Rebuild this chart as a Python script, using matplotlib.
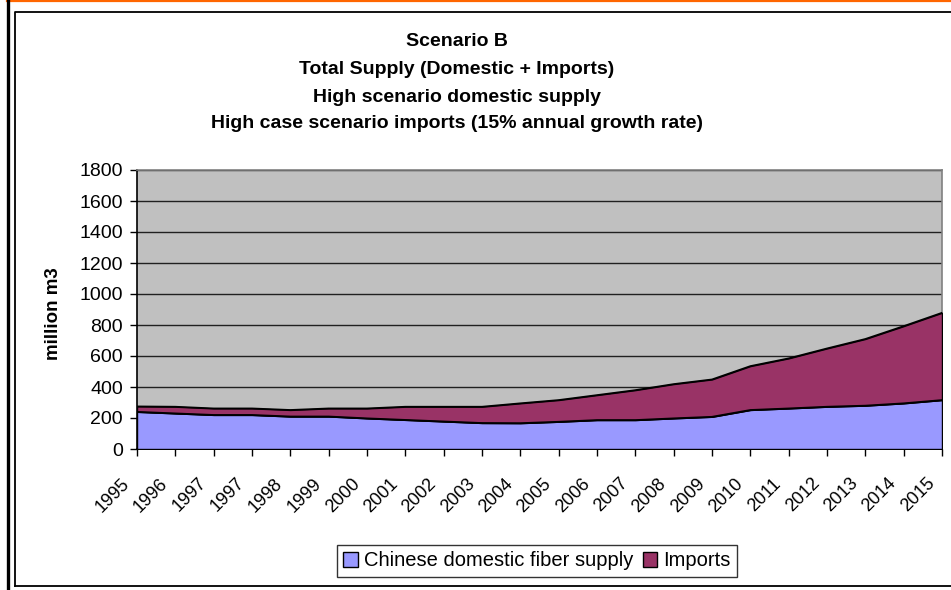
import matplotlib
matplotlib.use("Agg")
import matplotlib.pyplot as plt
from matplotlib.lines import Line2D
from matplotlib.patches import Patch
from matplotlib.transforms import ScaledTranslation
import numpy as np

years = ["1995", "1996", "1997", "1997", "1998", "1999", "2000", "2001", "2002",
         "2003", "2004", "2005", "2006", "2007", "2008", "2009", "2010", "2011",
         "2012", "2013", "2014", "2015"]
domestic = [240, 230, 220, 220, 210, 210, 198, 188, 178, 168, 167, 176, 187, 187,
            198, 208, 252, 262, 273, 280, 295, 316]
imports = [35, 43, 42, 42, 42, 52, 64, 85, 95, 105, 128, 140, 161, 193, 221, 241,
           283, 323, 376, 430, 498, 563]
series_names = ["Chinese domestic fiber supply", "Imports"]
title_lines = ["Scenario B", "Total Supply (Domestic + Imports)",
               "High scenario domestic supply",
               "High case scenario imports (15% annual growth rate)"]
yticks = [0, 200, 400, 600, 800, 1000, 1200, 1400, 1600, 1800]

plt.rcParams['font.family'] = ['Liberation Sans', 'DejaVu Sans']

W, H = 951, 590
fig = plt.figure(figsize=(W / 100, H / 100), dpi=100)
fig.patch.set_facecolor('white')

def fx(px):
    return px / W

def fy(py):
    return 1 - py / H

# frame decorations
fig.add_artist(Line2D([fx(7), 1], [fy(0.8), fy(0.8)], color='#FF6600', lw=1.6,
                      transform=fig.transFigure))
fig.add_artist(Line2D([fx(7.5), fx(7.5)], [0, 1], color='black', lw=2.4,
                      transform=fig.transFigure))
fig.add_artist(Line2D([fx(15), fx(15), 1], [fy(586), fy(12), fy(12)], color='black',
                      lw=1.3, transform=fig.transFigure))
fig.add_artist(Line2D([fx(15), 1], [fy(586), fy(586)], color='black',
                      lw=1.3, transform=fig.transFigure))

ax = fig.add_axes([fx(137), fy(449), fx(942) - fx(137), (449 - 170) / H])
ax.set_facecolor('#C0C0C0')

x = np.arange(len(years))
cols = ['#9999FF', '#993366']
polys = ax.stackplot(x, domestic, imports, colors=cols, edgecolor='black',
                     linewidth=1.0, zorder=3)
tot = np.array(domestic) + np.array(imports)
ax.plot(x, domestic, color='black', lw=1.2, zorder=4)
ax.plot(x, tot, color='black', lw=1.2, zorder=4)

ax.set_xlim(0, len(years) - 1)
ax.set_ylim(0, 1800)
ax.set_yticks(yticks)
ax.set_yticklabels([str(v) for v in yticks], fontsize=14)
ax.set_xticks(x)
ax.set_xticklabels(years, rotation=45, ha='right', va='center',
                   rotation_mode='anchor', fontsize=13)
ax.tick_params(axis='both', direction='out', length=5, width=1, color='black')
ax.tick_params(axis='y', pad=5)
ax.tick_params(axis='x', pad=18)
shift = ScaledTranslation(-10 / 100, 0, fig.dpi_scale_trans)
for lab in ax.get_xticklabels():
    lab.set_transform(lab.get_transform() + shift)
ax.yaxis.grid(True, color='#202020', lw=1.0, zorder=1)
ax.set_axisbelow(True)
for s in ['left', 'bottom']:
    ax.spines[s].set_color('black')
    ax.spines[s].set_linewidth(1.2)
for s in ['top', 'right']:
    ax.spines[s].set_color('#808080')
    ax.spines[s].set_linewidth(1.2)

fig.text(fx(53), fy(314), "million m3", rotation=90, fontsize=13.5,
         fontweight='bold', ha='center', va='center')

title_y = [41, 70, 97, 124]
for t, yy in zip(title_lines, title_y):
    fig.text(fx(457), fy(yy), t, fontsize=14, fontweight='bold', ha='center',
             va='center')

handles = [Patch(facecolor=c, edgecolor='black', lw=1.0) for c in cols]
leg = fig.legend(handles, series_names, loc='center', bbox_to_anchor=(fx(537), fy(561)),
                 ncol=2, fontsize=14.5, frameon=True, fancybox=False, shadow=False,
                 handlelength=0.7, handleheight=0.7, handletextpad=0.3,
                 columnspacing=0.5, borderpad=0.3, borderaxespad=0)
leg.get_frame().set_edgecolor('black')
leg.get_frame().set_linewidth(1.0)

fig.savefig('out.png', dpi=100, facecolor='white')
